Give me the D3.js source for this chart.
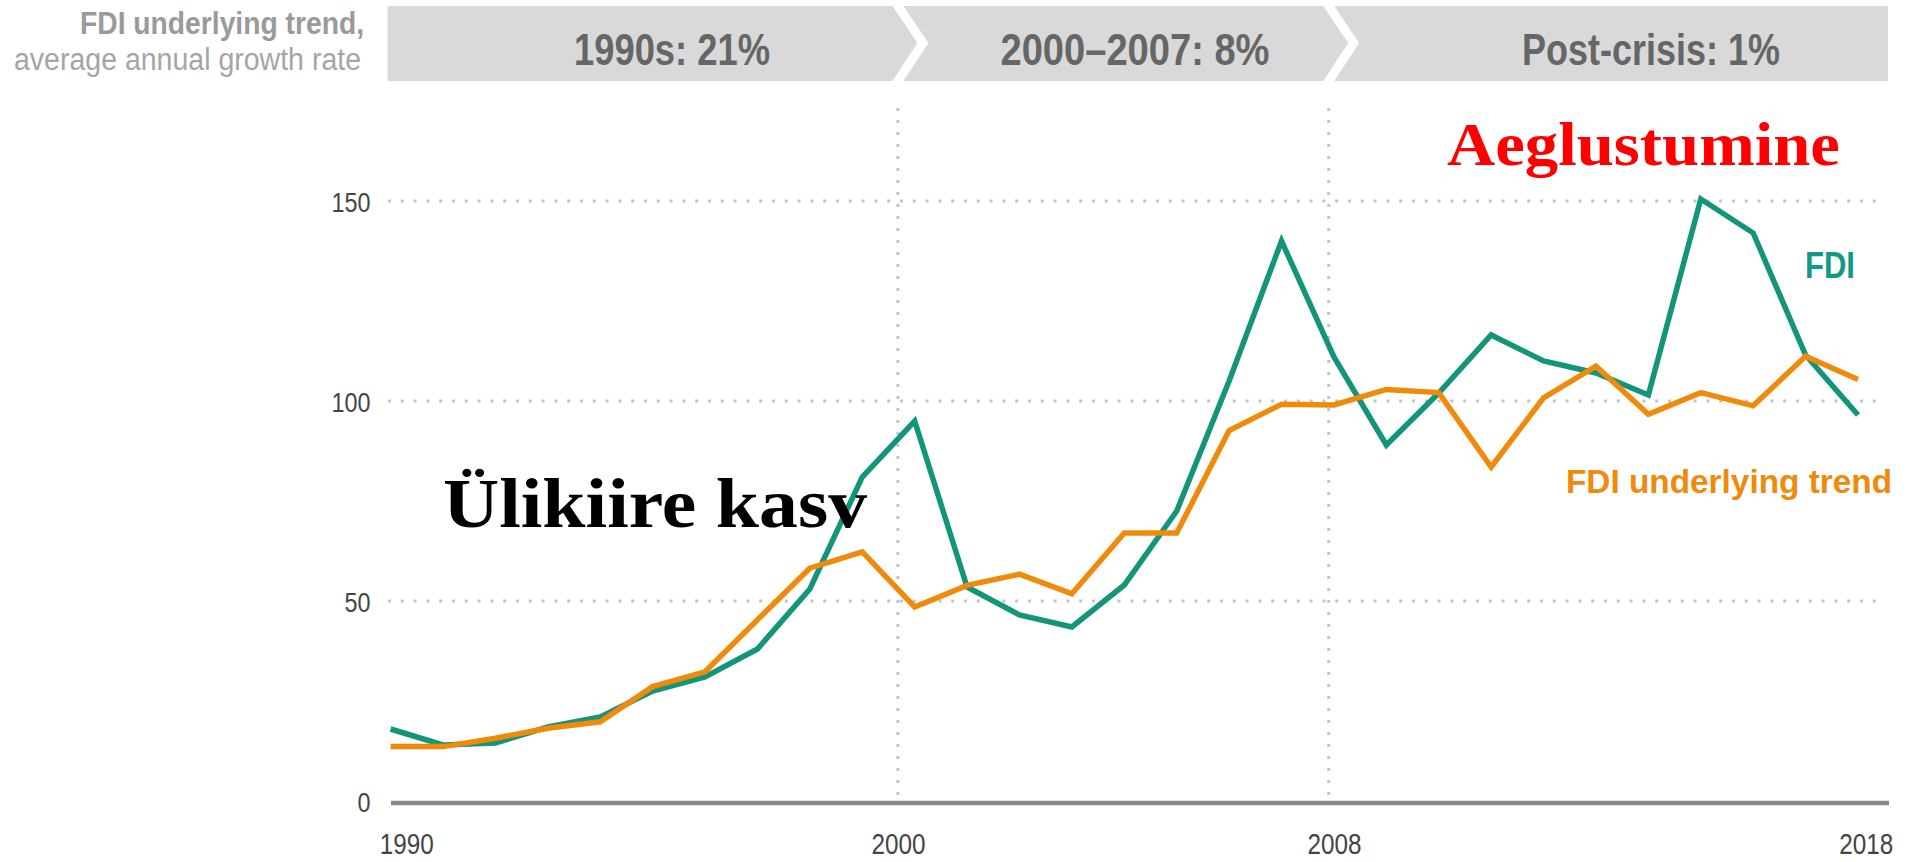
<!DOCTYPE html>
<html>
<head>
<meta charset="utf-8">
<script src="https://cdn.jsdelivr.net/npm/d3@7"></script>
<style>
    body { margin: 0; background: #fff; }
    svg text { font-family: "Liberation Sans Narrow", "Arial Narrow", "Liberation Sans", Arial, sans-serif; }
</style>
</head>
<body>
<div id="chart"></div>
<script>
// data
const years = d3.range(1990, 2019);
const fdi = [18, 14, 14.5, 18.5, 21, 27.5, 31, 38, 53, 81, 95,
    53.5, 46.5, 43.5, 54, 72.5, 105, 140, 111, 89,
    102, 116.5, 110, 107, 101.5, 150.5, 142, 111.5, 96.5];
const trend = [13.6, 13.6, 15.7, 18.2, 19.8, 28.6, 32.3, 45.3, 58.2, 62.3, 48.5,
    53.9, 56.7, 51.8, 67, 67, 92.6, 99.2, 99, 102.9,
    102.1, 83.5, 100.8, 108.7, 96.7, 102.1, 98.8, 111.2, 105.4];
const yTicks = [0, 50, 100, 150];
const xTickPos = [1990.3, 1999.68, 2008, 2018.15];
const xTickLabels = ["1990", "2000", "2008", "2018"];
const dividers = [1999.68, 2007.9];
const periodLabels = ["1990s: 21%", "2000\u20132007: 8%", "Post-crisis: 1%"];

const width = 1914, height = 862;
const colorFDI = "#12957a";
const colorTrend = "#f08a0b";

const svg = d3.select("#chart")
    .append("svg")
    .attr("width", width)
    .attr("height", height);

const xScale = d3.scaleLinear()
    .domain([1990, 2018])
    .range([390.6, 1858]);

const yScale = d3.scaleLinear()
    .domain([0, 150])
    .range([801, 201]);

// header banner with chevrons
const bTop = 6, bBot = 81, bMid = 43, depth = 25, gap = 11;
const bLeft = xScale(1990) - 3, bRight = 1888;
const edges = [bLeft].concat(dividers.map(d => xScale(d))).concat([bRight]);

edges.slice(0, -1).forEach(function (left, i) {
    const right = edges[i + 1];
    const isFirst = i === 0, isLast = i === edges.length - 2;
    const l = isFirst ? left : left + gap / 2;
    const r = isLast ? right : right - gap / 2;
    const pts = [
        [l, bTop],
        [r, bTop],
        isLast ? [r, bMid] : [r + depth, bMid],
        [r, bBot],
        [l, bBot],
        isFirst ? [l, bMid] : [l + depth, bMid]
    ];
    svg.append("polygon")
        .attr("points", pts.map(p => p.join(",")).join(" "))
        .attr("fill", "#d9d9d9");
});

const labelCenters = [672, 1135, 1651];
const labelWidths = [196, 269, 258];
svg.selectAll(".period")
    .data(periodLabels)
    .enter()
    .append("text")
    .attr("class", "period")
    .attr("x", (d, i) => labelCenters[i])
    .attr("y", 65)
    .attr("text-anchor", "middle")
    .attr("textLength", (d, i) => labelWidths[i])
    .attr("lengthAdjust", "spacingAndGlyphs")
    .style("font-size", "44px")
    .style("font-weight", "bold")
    .style("fill", "#666")
    .text(d => d);

svg.append("text")
    .attr("x", 364)
    .attr("y", 34)
    .attr("text-anchor", "end")
    .attr("textLength", 284)
    .attr("lengthAdjust", "spacingAndGlyphs")
    .style("font-size", "31px")
    .style("font-weight", "bold")
    .style("fill", "#9a9a9a")
    .text("FDI underlying trend,");

svg.append("text")
    .attr("x", 361)
    .attr("y", 70)
    .attr("text-anchor", "end")
    .attr("textLength", 347)
    .attr("lengthAdjust", "spacingAndGlyphs")
    .style("font-size", "31px")
    .style("fill", "#a5a5a5")
    .text("average annual growth rate");

// dotted gridlines
svg.selectAll(".grid")
    .data(yTicks.filter(d => d > 0))
    .enter()
    .append("line")
    .attr("class", "grid")
    .attr("x1", 388)
    .attr("x2", 1876)
    .attr("y1", d => yScale(d))
    .attr("y2", d => yScale(d))
    .attr("stroke", "#c4c4c4")
    .attr("stroke-width", 3)
    .attr("stroke-dasharray", "3,9.8");

svg.selectAll(".divider")
    .data(dividers)
    .enter()
    .append("line")
    .attr("class", "divider")
    .attr("x1", d => xScale(d))
    .attr("x2", d => xScale(d))
    .attr("y1", 108)
    .attr("y2", 795)
    .attr("stroke", "#c4c4c4")
    .attr("stroke-width", 3)
    .attr("stroke-dasharray", "3,9");

// zero line
svg.append("line")
    .attr("x1", 391)
    .attr("x2", 1889)
    .attr("y1", yScale(0) + 2)
    .attr("y2", yScale(0) + 2)
    .attr("stroke", "#8a8a8a")
    .attr("stroke-width", 4.5);

// y axis
const yAxis = svg.append("g")
    .attr("transform", `translate(${xScale(1990)},0)`)
    .call(d3.axisLeft(yScale).tickValues(yTicks).tickSize(0).tickPadding(20));
yAxis.select(".domain").remove();
yAxis.selectAll("text")
    .attr("dy", "0.36em")
    .attr("textLength", d => String(d).length * 13)
    .attr("lengthAdjust", "spacingAndGlyphs")
    .style("font-size", "28px")
    .style("font-family", "'Liberation Sans', Arial, sans-serif")
    .style("fill", "#444");

// x axis
const xAxis = svg.append("g")
    .attr("transform", `translate(0,${yScale(0)})`)
    .call(d3.axisBottom(xScale)
        .tickValues(xTickPos)
        .tickFormat((d, i) => xTickLabels[i])
        .tickSize(0));
xAxis.select(".domain").remove();
xAxis.selectAll("text")
    .attr("y", 53)
    .attr("dy", 0)
    .attr("textLength", 54)
    .attr("lengthAdjust", "spacingAndGlyphs")
    .style("font-size", "29px")
    .style("fill", "#444");

// lines
const line = d3.line()
    .x((d, i) => xScale(years[i]))
    .y(d => yScale(d));

svg.append("path")
    .datum(fdi)
    .attr("d", line)
    .attr("fill", "none")
    .attr("stroke", colorFDI)
    .attr("stroke-width", 5.5)
    .attr("stroke-linejoin", "miter");

svg.append("path")
    .datum(trend)
    .attr("d", line)
    .attr("fill", "none")
    .attr("stroke", colorTrend)
    .attr("stroke-width", 5.5)
    .attr("stroke-linejoin", "miter");

// series labels
svg.append("text")
    .attr("x", 1855)
    .attr("y", 278)
    .attr("text-anchor", "end")
    .attr("textLength", 50)
    .attr("lengthAdjust", "spacingAndGlyphs")
    .style("font-size", "37px")
    .style("font-weight", "bold")
    .style("fill", "#139a86")
    .text("FDI");

svg.append("text")
    .attr("x", 1566)
    .attr("y", 493)
    .attr("textLength", 326)
    .attr("lengthAdjust", "spacingAndGlyphs")
    .style("font-size", "34px")
    .style("font-weight", "bold")
    .style("fill", colorTrend)
    .text("FDI underlying trend");

// annotations
svg.append("text")
    .attr("x", 1447)
    .attr("y", 165)
    .attr("textLength", 393)
    .attr("lengthAdjust", "spacingAndGlyphs")
    .style("font-family", "'Liberation Serif', 'Times New Roman', serif")
    .style("font-size", "62px")
    .style("font-weight", "bold")
    .style("fill", "#ff0000")
    .text("Aeglustumine");

svg.append("text")
    .attr("x", 443)
    .attr("y", 527)
    .attr("textLength", 424)
    .attr("lengthAdjust", "spacingAndGlyphs")
    .style("font-family", "'Liberation Serif', 'Times New Roman', serif")
    .style("font-size", "70px")
    .style("font-weight", "bold")
    .style("fill", "#000")
    .text("Ülikiire kasv");
</script>
</body>
</html>
